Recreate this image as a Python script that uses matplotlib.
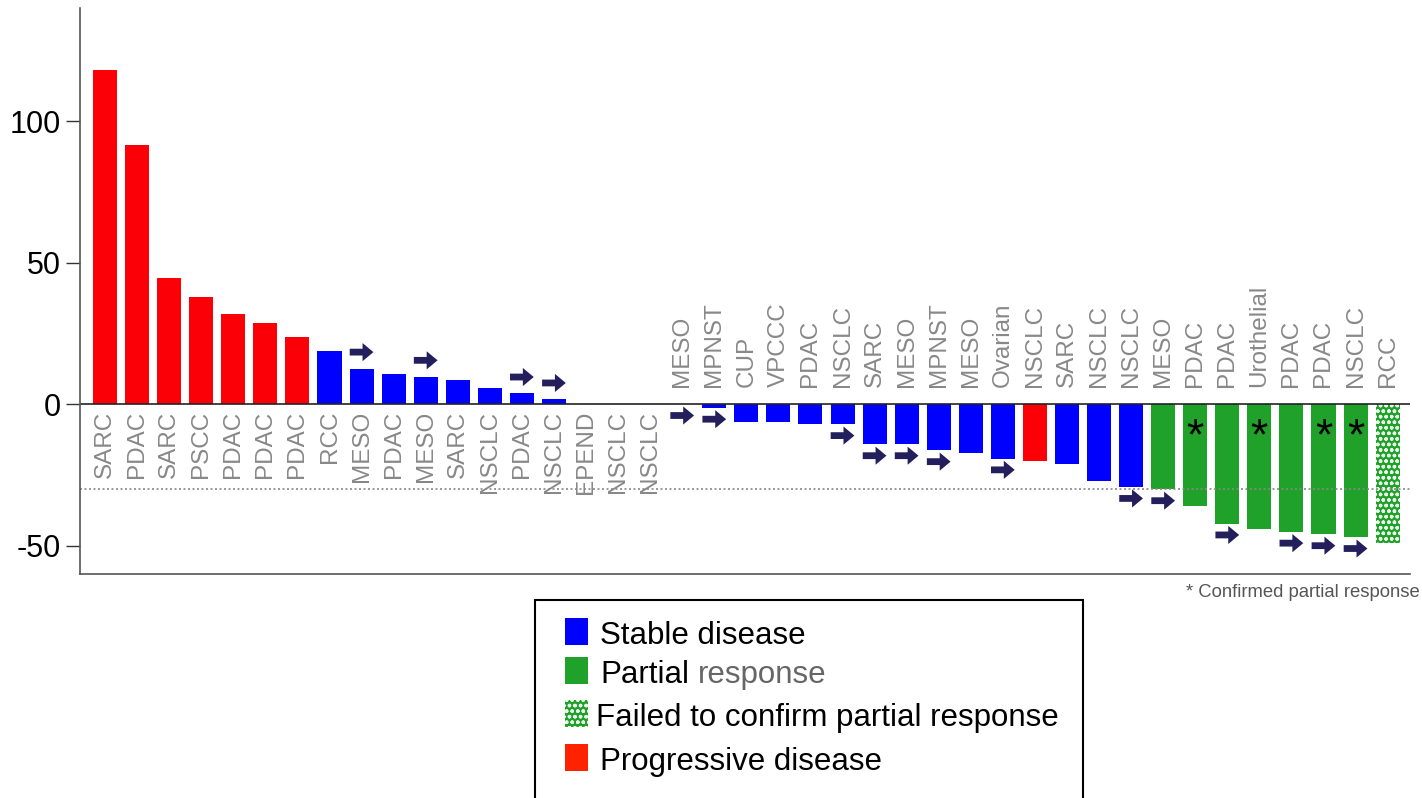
import matplotlib
matplotlib.use("Agg")
import matplotlib.pyplot as plt
from matplotlib.patches import Rectangle, FancyArrow

plt.rcParams['font.family'] = ['Liberation Sans', 'DejaVu Sans']
plt.rcParams['hatch.linewidth'] = 1.0
plt.rcParams['axes.unicode_minus'] = False

# tumour type per patient, ordered as in the waterfall
tumours = ['SARC', 'PDAC', 'SARC', 'PSCC', 'PDAC', 'PDAC', 'PDAC', 'RCC', 'MESO', 'PDAC',
           'MESO', 'SARC', 'NSCLC', 'PDAC', 'NSCLC', 'EPEND', 'NSCLC', 'NSCLC', 'MESO', 'MPNST',
           'CUP', 'VPCCC', 'PDAC', 'NSCLC', 'SARC', 'MESO', 'MPNST', 'MESO', 'Ovarian', 'NSCLC',
           'SARC', 'NSCLC', 'NSCLC', 'MESO', 'PDAC', 'PDAC', 'Urothelial', 'PDAC', 'PDAC', 'NSCLC',
           'RCC']
# best % change from baseline
change = [118, 91.6, 44.6, 37.7, 31.7, 28.7, 23.7, 18.7, 12.6, 10.7,
          9.7, 8.7, 5.7, 3.8, 1.7, 0, 0, 0, 0, -1.3,
          -6.2, -6.2, -7.1, -7.1, -14.2, -14.2, -16.3, -17.2, -19.2, -20.1,
          -21.1, -27.2, -29.3, -30.1, -36, -42.2, -44.2, -45.1, -46, -47,
          -48.9]
# PD = progressive, SD = stable, PR = partial response, uPR = failed to confirm PR
response = ['PD'] * 7 + ['SD'] * 22 + ['PD'] + ['SD'] * 3 + ['PR'] * 7 + ['uPR']
ongoing = [8, 10, 13, 14, 18, 19, 23, 24, 25, 26, 28, 32, 33, 35, 37, 38, 39]
confirmed = [34, 36, 38, 39]

colours = {'PD': '#fb0007', 'SD': '#0000ff', 'PR': '#1fa12a', 'uPR': '#1fa12a'}
arrow_col = '#231f5c'
label_col = '#888888'

fig = plt.figure(figsize=(14.22, 7.98), dpi=100)
ax = fig.add_axes([0.0563, 0.2807, 0.9353, 0.7093])

x = list(range(len(change)))
for i in x:
    resp = response[i]
    if resp == 'uPR':
        ax.bar(i, change[i], width=0.75, color=colours[resp], edgecolor='#e8f5e8',
               linewidth=0, hatch='ooo')
    else:
        ax.bar(i, change[i], width=0.75, color=colours[resp], linewidth=0)

    # tumour labels: below zero for the first group, above for the rest
    if i <= 17:
        ax.text(i, -2.4, tumours[i], rotation=90, ha='center', va='top',
                fontsize=17.5, color=label_col)
    else:
        ax.text(i, 6, tumours[i], rotation=90, ha='center', va='bottom',
                fontsize=17.5, color=label_col)

# ongoing treatment arrows
for i in ongoing:
    y = change[i] + 5.8 if change[i] > 0 else change[i] - 4
    ax.add_patch(FancyArrow(i - 0.37, y, 0.74, 0, width=2.4, head_width=6.4,
                            head_length=0.34, length_includes_head=True,
                            color=arrow_col, linewidth=0))

for i in confirmed:
    ax.text(i, -12, '*', ha='center', va='center', fontsize=32, color='black')

ax.axhline(0, color='#222222', linewidth=1.2)
ax.axhline(-30, color='#888888', linewidth=1.2, linestyle=(0, (1.2, 1.5)))

ax.set_xlim(-0.78, 40.7)
ax.set_ylim(-60, 140)
ax.set_yticks([-50, 0, 50, 100])
ax.set_xticks([])
ax.tick_params(axis='y', labelsize=22, length=10, width=1, color='#333333', pad=4)
for s in ['top', 'right']:
    ax.spines[s].set_visible(False)
for s in ['left', 'bottom']:
    ax.spines[s].set_color('#555555')
    ax.spines[s].set_linewidth(1.2)

fig.text(0.9985, 0.258, '* Confirmed partial response', ha='right', va='center',
         fontsize=13.3, color='#555555')

# legend box, cut off at the bottom of the figure
fig.patches.append(Rectangle((535 / 1422, -0.05), 548 / 1422, 0.05 + 198 / 798,
                             transform=fig.transFigure, facecolor='white',
                             edgecolor='black', linewidth=1.5, clip_on=False))
entries = [('Stable disease', '#0000ff', None), ('Partial', '#1fa12a', None),
           ('Failed to confirm partial response', '#1fa12a', 'ooo'),
           ('Progressive disease', '#ff2200', None)]
rows = [636, 675, 718, 762]
for (text, col, hatch), ypx in zip(entries, rows):
    yf = 1 - ypx / 798
    fig.patches.append(Rectangle((565 / 1422, yf - 9 / 798), 23 / 1422, 27 / 798,
                                 transform=fig.transFigure, facecolor=col,
                                 edgecolor='#e8f5e8' if hatch else col,
                                 linewidth=0, hatch=hatch))
    xt = 596 / 1422 if hatch else 600 / 1422
    t = fig.text(xt, yf, text, ha='left', va='center', fontsize=22.5, color='black')
    if text == 'Partial':
        fig.canvas.draw()
        bb = t.get_window_extent()
        fig.text(bb.x1 / fig.bbox.width + 0.006, yf, 'response', ha='left',
                 va='center', fontsize=22.5, color='#666666')

fig.savefig('out.png', dpi=100, facecolor='white')
